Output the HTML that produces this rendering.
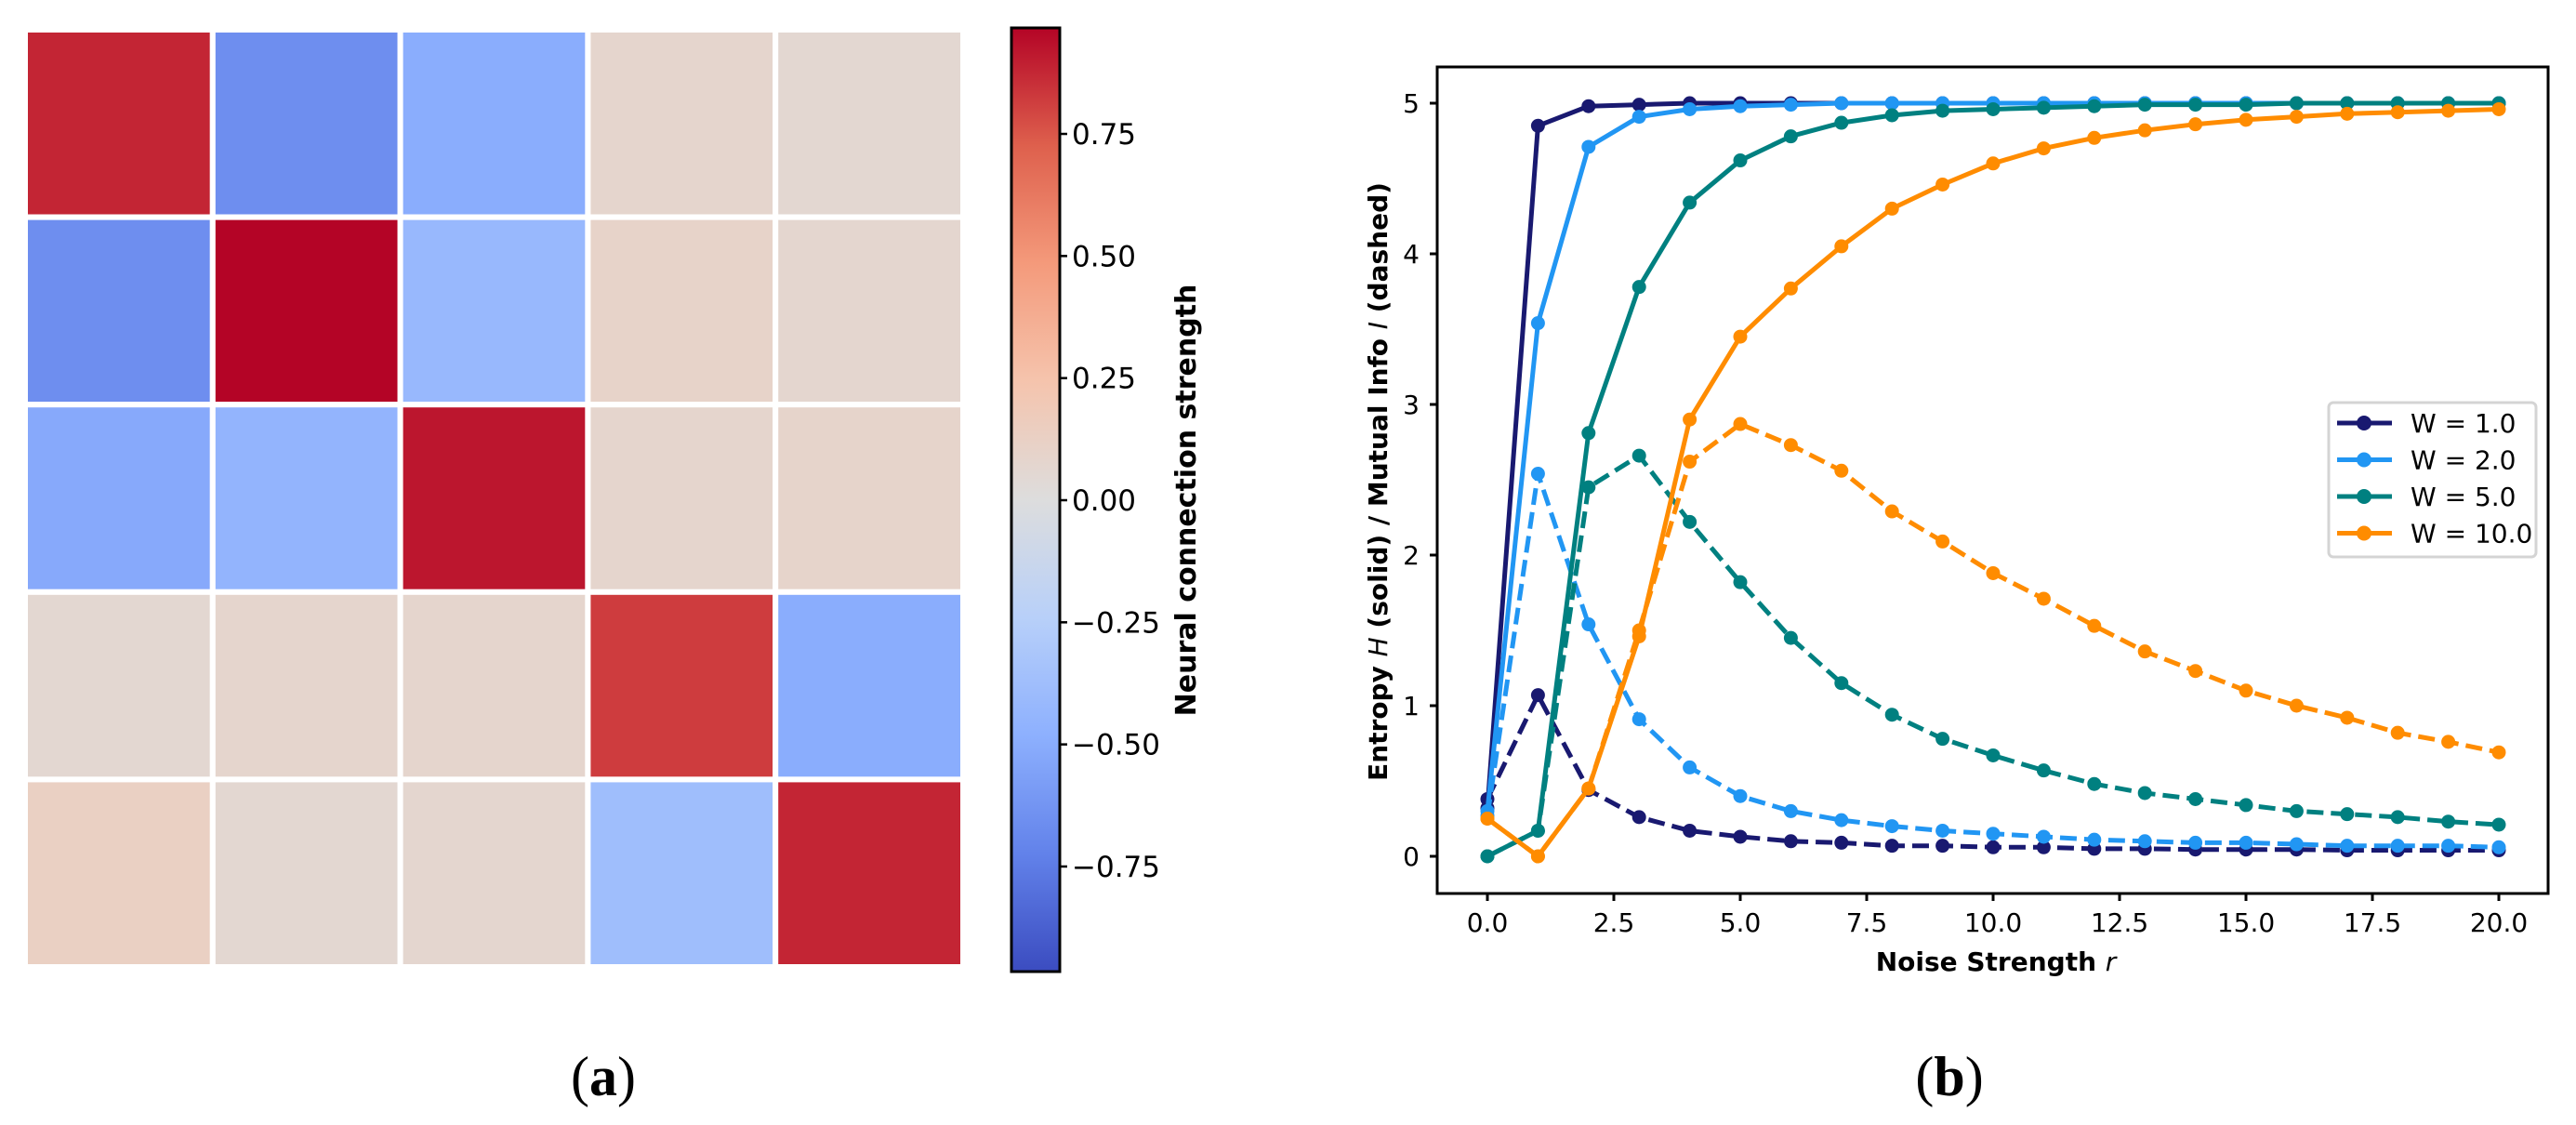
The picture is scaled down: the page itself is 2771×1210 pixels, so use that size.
<!DOCTYPE html>
<html><head><meta charset="utf-8">
<style>
html,body{margin:0;padding:0;background:#fff;}
svg{display:block;font-family:"DejaVu Sans","Liberation Sans",sans-serif;}
</style></head>
<body>
<svg id="fig" width="2771" height="1210" viewBox="0 0 2771 1210" xmlns="http://www.w3.org/2000/svg">
<defs>
<linearGradient id="cbgrad" x1="0" y1="1" x2="0" y2="0">
<stop offset="0" stop-color="rgb(59,76,192)"/>
<stop offset="0.125" stop-color="rgb(98,130,234)"/>
<stop offset="0.25" stop-color="rgb(141,176,254)"/>
<stop offset="0.375" stop-color="rgb(184,208,249)"/>
<stop offset="0.5" stop-color="rgb(221,221,221)"/>
<stop offset="0.625" stop-color="rgb(245,196,173)"/>
<stop offset="0.75" stop-color="rgb(244,154,123)"/>
<stop offset="0.875" stop-color="rgb(222,96,77)"/>
<stop offset="1" stop-color="rgb(180,4,38)"/>
</linearGradient>
</defs>
<g id="heat"></g>
<rect x="1088" y="30" width="52" height="1015" fill="url(#cbgrad)" stroke="#000" stroke-width="3"/>
<g id="cbticks"></g>
<text transform="translate(1286,538) rotate(-90)" text-anchor="middle" font-size="30" font-weight="bold">Neural connection strength</text>
<text x="649" y="1178" text-anchor="middle" font-family="Liberation Serif, serif" font-size="60">(<tspan font-weight="bold">a</tspan>)</text>

<g id="chart"></g>
<rect x="1546" y="72" width="1195" height="889" fill="none" stroke="#000" stroke-width="3"/>
<text x="2147" y="1044" text-anchor="middle" font-size="28" font-weight="bold">Noise Strength <tspan font-style="italic" font-weight="normal">r</tspan></text>
<text transform="translate(1492,518) rotate(-90)" text-anchor="middle" font-size="28" font-weight="bold">Entropy <tspan font-style="italic" font-weight="normal">H</tspan> (solid) / Mutual Info <tspan font-style="italic" font-weight="normal">I</tspan> (dashed)</text>
<g>
<rect x="2505" y="433" width="223" height="166" rx="5" fill="#fff" fill-opacity="0.9" stroke="#d4d4d4" stroke-width="3"/>
<g id="legend-entries"></g>
</g>
<text x="2097" y="1178" text-anchor="middle" font-family="Liberation Serif, serif" font-size="60">(<tspan font-weight="bold">b</tspan>)</text>
</svg>
<script>
const heatValues = [
 [0.88,-0.66,-0.50,0.08,0.06],
 [-0.66,0.97,-0.42,0.10,0.07],
 [-0.52,-0.45,0.92,0.08,0.09],
 [0.06,0.08,0.08,0.82,-0.50],
 [0.13,0.06,0.07,-0.38,0.88]
];
const cbTicks = [0.75,0.5,0.25,0,-0.25,-0.5,-0.75];
const cbTickLabels = ["0.75","0.50","0.25","0.00","\u22120.25","\u22120.50","\u22120.75"];
const xValues = [0,1,2,3,4,5,6,7,8,9,10,11,12,13,14,15,16,17,18,19,20];
const seriesNames = ["W = 1.0","W = 2.0","W = 5.0","W = 10.0"];
const seriesColors = ["#191970","#2196F3","#008080","#FF8C00"];
const H_w1 = [0.32,4.85,4.98,4.99,5.0,5.0,5.0,5.0,5.0,5.0,5.0,5.0,5.0,5.0,5.0,5.0,5.0,5.0,5.0,5.0,5.0];
const I_w1 = [0.38,1.07,0.44,0.26,0.17,0.13,0.10,0.09,0.07,0.07,0.06,0.06,0.05,0.05,0.045,0.045,0.045,0.04,0.04,0.04,0.04];
const H_w2 = [0.30,3.54,4.71,4.91,4.96,4.98,4.99,5.0,5.0,5.0,5.0,5.0,5.0,5.0,5.0,5.0,5.0,5.0,5.0,5.0,5.0];
const I_w2 = [0.27,2.54,1.54,0.91,0.59,0.40,0.30,0.24,0.20,0.17,0.15,0.13,0.11,0.10,0.09,0.09,0.08,0.07,0.07,0.07,0.06];
const H_w5 = [0.0,0.17,2.81,3.78,4.34,4.62,4.78,4.87,4.92,4.95,4.96,4.97,4.98,4.99,4.99,4.99,5.0,5.0,5.0,5.0,5.0];
const I_w5 = [0.0,0.17,2.45,2.66,2.22,1.82,1.45,1.15,0.94,0.78,0.67,0.57,0.48,0.42,0.38,0.34,0.30,0.28,0.26,0.23,0.21];
const H_w10 = [0.25,0.0,0.45,1.46,2.90,3.45,3.77,4.05,4.30,4.46,4.60,4.70,4.77,4.82,4.86,4.89,4.91,4.93,4.94,4.95,4.96];
const I_w10 = [0.25,0.0,0.45,1.50,2.62,2.87,2.73,2.56,2.29,2.09,1.88,1.71,1.53,1.36,1.23,1.10,1.00,0.92,0.82,0.76,0.69];
const xTicks = [0,2.5,5,7.5,10,12.5,15,17.5,20];
const xTickLabels = ["0.0","2.5","5.0","7.5","10.0","12.5","15.0","17.5","20.0"];
const yTicks = [0,1,2,3,4,5];
const yTickLabels = ["0","1","2","3","4","5"];

const NS="http://www.w3.org/2000/svg";
function mk(tag, attrs, parent){const e=document.createElementNS(NS,tag);for(const k in attrs)e.setAttribute(k,attrs[k]);parent.appendChild(e);return e;}
const VMAX=0.967;
const cmapStops=[[59,76,192],[98,130,234],[141,176,254],[184,208,249],[221,221,221],[245,196,173],[244,154,123],[222,96,77],[180,4,38]];
function coolwarm(v){let t=(v/VMAX+1)/2;t=Math.max(0,Math.min(1,t));const p=t*8;const i=Math.min(7,Math.floor(p));const f=p-i;const a=cmapStops[i],b=cmapStops[i+1];return `rgb(${a.map((c,k)=>Math.round(c+(b[k]-c)*f)).join(',')})`;}

const heat=document.getElementById('heat');
const hx0=27,hy0=32,hw=1009,hh=1008,n=5,cw=hw/n,ch=hh/n;
heatValues.forEach((row,r)=>row.forEach((v,c)=>{
 const el=mk('rect',{x:hx0+c*cw,y:hy0+r*ch,width:cw,height:ch,fill:coolwarm(v),stroke:'#fff','stroke-width':6},heat);
 
 
}));
const cbt=document.getElementById('cbticks');
const cbY=v=>538-v*525.3;
cbTicks.forEach((v,i)=>{
 const l=mk('line',{x1:1141,x2:1148,y1:cbY(v),y2:cbY(v),stroke:'#000','stroke-width':2.5},cbt);
 
 
 const t=mk('text',{x:1153,y:cbY(v)+11,'font-size':31},cbt);
 t.textContent=cbTickLabels[i];
 
 
});

const chart=document.getElementById('chart');
const X=v=>1600+v*54.4;
const Y=v=>921-v*162;
xTicks.forEach((v,i)=>{
 const l=mk('line',{x1:X(v),x2:X(v),y1:961,y2:969,stroke:'#000','stroke-width':3},chart);
 
 
 const t=mk('text',{x:X(v),y:1002,'font-size':28,'text-anchor':'middle'},chart);
 t.textContent=xTickLabels[i];
 
 
});
yTicks.forEach((v,i)=>{
 const l=mk('line',{x1:1538,x2:1546,y1:Y(v),y2:Y(v),stroke:'#000','stroke-width':3},chart);
 
 
 const t=mk('text',{x:1527,y:Y(v)+10,'font-size':28,'text-anchor':'end'},chart);
 t.textContent=yTickLabels[i];
 
 
});
const Hs=[H_w1,H_w2,H_w5,H_w10], Is=[I_w1,I_w2,I_w5,I_w10];
function drawSeries(vals,color,dashed,name){
 const g=mk('g',{},chart);
 
 
 const d=vals.map((v,i)=>(i?'L':'M')+X(xValues[i]).toFixed(1)+','+Y(v).toFixed(1)).join('');
 const p=mk('path',{d:d,fill:'none',stroke:color,'stroke-width':5,'stroke-linejoin':'round'},g);
 if(dashed)p.setAttribute('stroke-dasharray','18,8');
 vals.forEach((v,i)=>{
  const c=mk('circle',{cx:X(xValues[i]),cy:Y(v),r:7.5,fill:color},g);
  
  
 });
}
for(let s=0;s<4;s++){
 drawSeries(Hs[s],seriesColors[s],false,'entropy-line-'+(s+1));
 drawSeries(Is[s],seriesColors[s],true,'mutual-info-line-'+(s+1));
}
const lg=document.getElementById('legend-entries');
seriesNames.forEach((nm,i)=>{
 const y=455+i*39.5;
 const g=mk('g',{},lg);
 
 
 mk('line',{x1:2514,x2:2573,y1:y,y2:y,stroke:seriesColors[i],'stroke-width':5},g);
 mk('circle',{cx:2543,cy:y,r:8,fill:seriesColors[i]},g);
 const t=mk('text',{x:2593,y:y+10,'font-size':28},g);
 t.textContent=nm;
});
</script>
</body></html>
